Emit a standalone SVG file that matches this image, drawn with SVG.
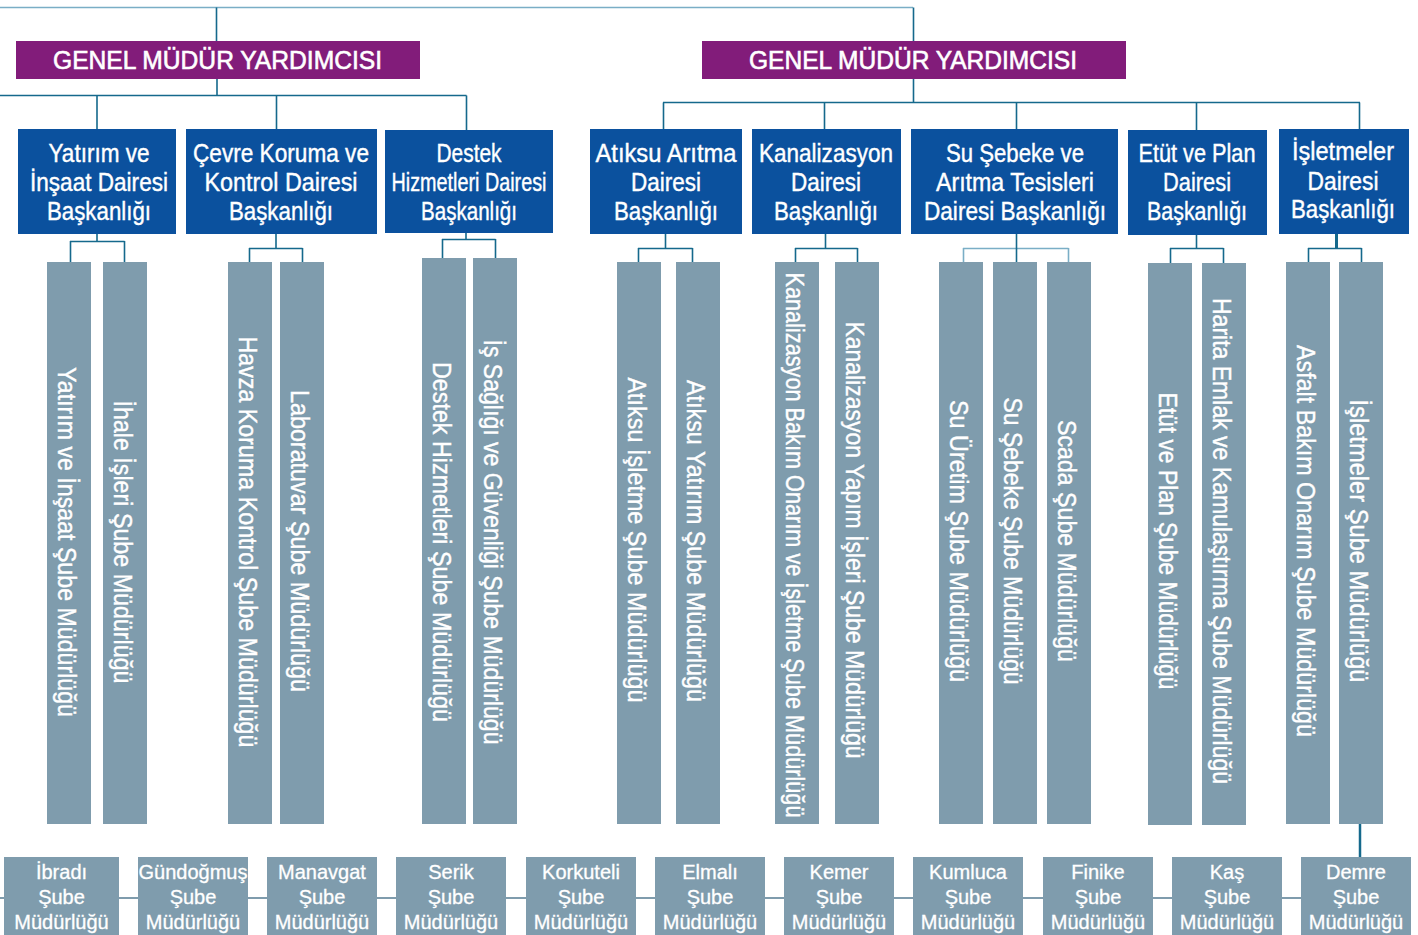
<svg xmlns="http://www.w3.org/2000/svg" width="1418" height="935" viewBox="0 0 1418 935">
<style>
.gm{fill:#821c7a}
.db{fill:#0b519e}
.gr{fill:#7f9cad}
.t{font-family:"Liberation Sans",Arial,sans-serif;fill:#ffffff;stroke:#ffffff;stroke-width:0.4}
.gmt{font-size:25px;text-anchor:middle;stroke-width:0.6}
.dbt{font-size:25px;text-anchor:middle}
.bt{font-size:25px;text-anchor:middle}
.st{font-size:20px;text-anchor:middle;stroke-width:0.3}
.c{stroke:#15698c;stroke-width:1.6;fill:none}
.cl{stroke:#7aaec6;stroke-width:1.6;fill:none}
.cg{stroke:#7f9cad;stroke-width:2.2;fill:none}
</style>
<rect width="1418" height="935" fill="#ffffff"/>
<g id="connectors">
<path class="cl" d="M0 7.5H913"/>
<path class="c" d="M216.5 7.5V41M913.5 7.5V41"/>
<path class="c" d="M217 79V95.5M0 95.5H466.5M97 95.5V129M276.5 95.5V129M466.5 95.5V130"/>
<path class="c" d="M913.5 79V102.5M663 102.5H1360M663.5 102.5V129M824.5 102.5V129M1016.5 102.5V129M1196.5 102.5V130M1359.5 102.5V129"/>
<path class="c" d="M97 234V241.5M70 241.5H124.5M70.5 241V262M124.5 241V262"/>
<path class="c" d="M276 234V248.5M249 248.5H302.5M249.5 248V262M302.5 248V262"/>
<path class="c" d="M466 233V239.5M442 239.5H495.5M442.5 239V258M495.5 239V258"/>
<path class="c" d="M665.5 234V248.5M638 248.5H692.5M638.5 248V262M692.5 248V262"/>
<path class="c" d="M825.5 234V248.5M795 248.5H857.5M795.5 248V262M857.5 248V262"/>
<path class="cl" d="M963 248.5H1068.5M963.5 248V262M1068.5 248V262"/>
<path class="c" d="M1016.5 234V262"/>
<path class="c" d="M1196.5 235V248.5M1170 248.5H1223.5M1170.5 248V263M1223.5 248V263"/>
<path class="c" d="M1308 248.5H1361.5M1308.5 248V262M1361.5 248V262"/>
<path class="c" style="stroke-width:3" d="M1336.5 234V249"/>
<path class="cg" d="M0 898H1301"/>
<path class="c" style="stroke-width:2.5" d="M1360 824V857"/>
</g>
<g id="gmy1"><rect class="gm" x="16" y="41" width="404" height="38"/><text class="t gmt" x="217.5" y="69" textLength="329" lengthAdjust="spacingAndGlyphs">GENEL MÜDÜR YARDIMCISI</text></g>
<g id="gmy2"><rect class="gm" x="702" y="41" width="424" height="38"/><text class="t gmt" x="913" y="69" textLength="328" lengthAdjust="spacingAndGlyphs">GENEL MÜDÜR YARDIMCISI</text></g>

<g id="d1"><rect class="db" x="18" y="129" width="158" height="105"/>
<text class="t dbt" x="99" y="162" textLength="101" lengthAdjust="spacingAndGlyphs">Yatırım ve</text>
<text class="t dbt" x="99" y="191" textLength="138" lengthAdjust="spacingAndGlyphs">İnşaat Dairesi</text>
<text class="t dbt" x="99" y="220" textLength="104" lengthAdjust="spacingAndGlyphs">Başkanlığı</text></g>
<g id="d2"><rect class="db" x="186" y="129" width="191" height="105"/>
<text class="t dbt" x="281" y="162" textLength="176" lengthAdjust="spacingAndGlyphs">Çevre Koruma ve</text>
<text class="t dbt" x="281" y="191" textLength="153" lengthAdjust="spacingAndGlyphs">Kontrol Dairesi</text>
<text class="t dbt" x="281" y="220" textLength="104" lengthAdjust="spacingAndGlyphs">Başkanlığı</text></g>
<g id="d3"><rect class="db" x="385" y="130" width="168" height="103"/>
<text class="t dbt" x="469" y="162" textLength="65" lengthAdjust="spacingAndGlyphs">Destek</text>
<text class="t dbt" x="469" y="191" textLength="155" lengthAdjust="spacingAndGlyphs">Hizmetleri Dairesi</text>
<text class="t dbt" x="469" y="220" textLength="96" lengthAdjust="spacingAndGlyphs">Başkanlığı</text></g>
<g id="d4"><rect class="db" x="590" y="129" width="152" height="105"/>
<text class="t dbt" x="666" y="162" textLength="141" lengthAdjust="spacingAndGlyphs">Atıksu Arıtma</text>
<text class="t dbt" x="666" y="191" textLength="70" lengthAdjust="spacingAndGlyphs">Dairesi</text>
<text class="t dbt" x="666" y="220" textLength="104" lengthAdjust="spacingAndGlyphs">Başkanlığı</text></g>
<g id="d5"><rect class="db" x="752" y="129" width="149" height="105"/>
<text class="t dbt" x="826" y="162" textLength="134" lengthAdjust="spacingAndGlyphs">Kanalizasyon</text>
<text class="t dbt" x="826" y="191" textLength="70" lengthAdjust="spacingAndGlyphs">Dairesi</text>
<text class="t dbt" x="826" y="220" textLength="104" lengthAdjust="spacingAndGlyphs">Başkanlığı</text></g>
<g id="d6"><rect class="db" x="911" y="129" width="207" height="105"/>
<text class="t dbt" x="1015" y="162" textLength="138" lengthAdjust="spacingAndGlyphs">Su Şebeke ve</text>
<text class="t dbt" x="1015" y="191" textLength="158" lengthAdjust="spacingAndGlyphs">Arıtma Tesisleri</text>
<text class="t dbt" x="1015" y="220" textLength="182" lengthAdjust="spacingAndGlyphs">Dairesi Başkanlığı</text></g>
<g id="d7"><rect class="db" x="1128" y="130" width="139" height="105"/>
<text class="t dbt" x="1197" y="162" textLength="117" lengthAdjust="spacingAndGlyphs">Etüt ve Plan</text>
<text class="t dbt" x="1197" y="191" textLength="68" lengthAdjust="spacingAndGlyphs">Dairesi</text>
<text class="t dbt" x="1197" y="220" textLength="100" lengthAdjust="spacingAndGlyphs">Başkanlığı</text></g>
<g id="d8"><rect class="db" x="1279" y="129" width="130" height="105"/>
<text class="t dbt" x="1343" y="160" textLength="102" lengthAdjust="spacingAndGlyphs">İşletmeler</text>
<text class="t dbt" x="1343" y="190" textLength="71" lengthAdjust="spacingAndGlyphs">Dairesi</text>
<text class="t dbt" x="1343" y="218" textLength="104" lengthAdjust="spacingAndGlyphs">Başkanlığı</text></g>

<g id="b1"><rect class="gr" x="47" y="262" width="44" height="562"/><text class="t bt" transform="translate(58,542) rotate(90)" textLength="350" lengthAdjust="spacingAndGlyphs">Yatırım ve İnşaat Şube Müdürlüğü</text></g>
<g id="b2"><rect class="gr" x="103" y="262" width="44" height="562"/><text class="t bt" transform="translate(114,542) rotate(90)" textLength="283" lengthAdjust="spacingAndGlyphs">İhale İşleri Şube Müdürlüğü</text></g>
<g id="b3"><rect class="gr" x="228" y="262" width="44" height="562"/><text class="t bt" transform="translate(239,542) rotate(90)" textLength="411" lengthAdjust="spacingAndGlyphs">Havza Koruma Kontrol Şube Müdürlüğü</text></g>
<g id="b4"><rect class="gr" x="280" y="262" width="44" height="562"/><text class="t bt" transform="translate(291,541) rotate(90)" textLength="302" lengthAdjust="spacingAndGlyphs">Laboratuvar Şube Müdürlüğü</text></g>
<g id="b5"><rect class="gr" x="422" y="258" width="44" height="566"/><text class="t bt" transform="translate(433,542) rotate(90)" textLength="360" lengthAdjust="spacingAndGlyphs">Destek Hizmetleri Şube Müdürlüğü</text></g>
<g id="b6"><rect class="gr" x="473" y="258" width="44" height="566"/><text class="t bt" transform="translate(484,542) rotate(90)" textLength="405" lengthAdjust="spacingAndGlyphs">İş Sağlığı ve Güvenliği Şube Müdürlüğü</text></g>
<g id="b7"><rect class="gr" x="617" y="262" width="44" height="562"/><text class="t bt" transform="translate(628,540) rotate(90)" textLength="325" lengthAdjust="spacingAndGlyphs">Atıksu İşletme Şube Müdürlüğü</text></g>
<g id="b8"><rect class="gr" x="676" y="262" width="44" height="562"/><text class="t bt" transform="translate(687,541) rotate(90)" textLength="322" lengthAdjust="spacingAndGlyphs">Atıksu Yatırım Şube Müdürlüğü</text></g>
<g id="b9"><rect class="gr" x="775" y="262" width="44" height="562"/><text class="t bt" transform="translate(786,545) rotate(90)" textLength="545" lengthAdjust="spacingAndGlyphs">Kanalizasyon Bakım Onarım ve İşletme Şube Müdürlüğü</text></g>
<g id="b10"><rect class="gr" x="835" y="262" width="44" height="562"/><text class="t bt" transform="translate(846,540) rotate(90)" textLength="437" lengthAdjust="spacingAndGlyphs">Kanalizasyon Yapım İşleri Şube Müdürlüğü</text></g>
<g id="b11"><rect class="gr" x="939" y="262" width="44" height="562"/><text class="t bt" transform="translate(950,541) rotate(90)" textLength="282" lengthAdjust="spacingAndGlyphs">Su Üretim Şube Müdürlüğü</text></g>
<g id="b12"><rect class="gr" x="993" y="262" width="44" height="562"/><text class="t bt" transform="translate(1004,541) rotate(90)" textLength="287" lengthAdjust="spacingAndGlyphs">Su Şebeke Şube Müdürlüğü</text></g>
<g id="b13"><rect class="gr" x="1047" y="262" width="44" height="562"/><text class="t bt" transform="translate(1058,541) rotate(90)" textLength="242" lengthAdjust="spacingAndGlyphs">Scada Şube Müdürlüğü</text></g>
<g id="b14"><rect class="gr" x="1148" y="263" width="44" height="562"/><text class="t bt" transform="translate(1159,541) rotate(90)" textLength="297" lengthAdjust="spacingAndGlyphs">Etüt ve Plan Şube Müdürlüğü</text></g>
<g id="b15"><rect class="gr" x="1202" y="263" width="44" height="562"/><text class="t bt" transform="translate(1213,541) rotate(90)" textLength="486" lengthAdjust="spacingAndGlyphs">Harita Emlak ve Kamulaştırma Şube Müdürlüğü</text></g>
<g id="b16"><rect class="gr" x="1286" y="262" width="44" height="562"/><text class="t bt" transform="translate(1297,541) rotate(90)" textLength="392" lengthAdjust="spacingAndGlyphs">Asfalt Bakım Onarım Şube Müdürlüğü</text></g>
<g id="b17"><rect class="gr" x="1339" y="262" width="44" height="562"/><text class="t bt" transform="translate(1350,541) rotate(90)" textLength="283" lengthAdjust="spacingAndGlyphs">İşletmeler Şube Müdürlüğü</text></g>

<g id="s1"><rect class="gr" x="4" y="857" width="115" height="78"/><text class="t st" x="61.5" y="879">İbradı</text><text class="t st" x="61.5" y="904">Şube</text><text class="t st" x="61.5" y="929">Müdürlüğü</text></g>
<g id="s2"><rect class="gr" x="138" y="857" width="110" height="78"/><text class="t st" x="193" y="879">Gündoğmuş</text><text class="t st" x="193" y="904">Şube</text><text class="t st" x="193" y="929">Müdürlüğü</text></g>
<g id="s3"><rect class="gr" x="267" y="857" width="110" height="78"/><text class="t st" x="322" y="879">Manavgat</text><text class="t st" x="322" y="904">Şube</text><text class="t st" x="322" y="929">Müdürlüğü</text></g>
<g id="s4"><rect class="gr" x="396" y="857" width="110" height="78"/><text class="t st" x="451" y="879">Serik</text><text class="t st" x="451" y="904">Şube</text><text class="t st" x="451" y="929">Müdürlüğü</text></g>
<g id="s5"><rect class="gr" x="526" y="857" width="110" height="78"/><text class="t st" x="581" y="879">Korkuteli</text><text class="t st" x="581" y="904">Şube</text><text class="t st" x="581" y="929">Müdürlüğü</text></g>
<g id="s6"><rect class="gr" x="655" y="857" width="110" height="78"/><text class="t st" x="710" y="879">Elmalı</text><text class="t st" x="710" y="904">Şube</text><text class="t st" x="710" y="929">Müdürlüğü</text></g>
<g id="s7"><rect class="gr" x="784" y="857" width="110" height="78"/><text class="t st" x="839" y="879">Kemer</text><text class="t st" x="839" y="904">Şube</text><text class="t st" x="839" y="929">Müdürlüğü</text></g>
<g id="s8"><rect class="gr" x="913" y="857" width="110" height="78"/><text class="t st" x="968" y="879">Kumluca</text><text class="t st" x="968" y="904">Şube</text><text class="t st" x="968" y="929">Müdürlüğü</text></g>
<g id="s9"><rect class="gr" x="1043" y="857" width="110" height="78"/><text class="t st" x="1098" y="879">Finike</text><text class="t st" x="1098" y="904">Şube</text><text class="t st" x="1098" y="929">Müdürlüğü</text></g>
<g id="s10"><rect class="gr" x="1172" y="857" width="110" height="78"/><text class="t st" x="1227" y="879">Kaş</text><text class="t st" x="1227" y="904">Şube</text><text class="t st" x="1227" y="929">Müdürlüğü</text></g>
<g id="s11"><rect class="gr" x="1301" y="857" width="110" height="78"/><text class="t st" x="1356" y="879">Demre</text><text class="t st" x="1356" y="904">Şube</text><text class="t st" x="1356" y="929">Müdürlüğü</text></g>
</svg>
